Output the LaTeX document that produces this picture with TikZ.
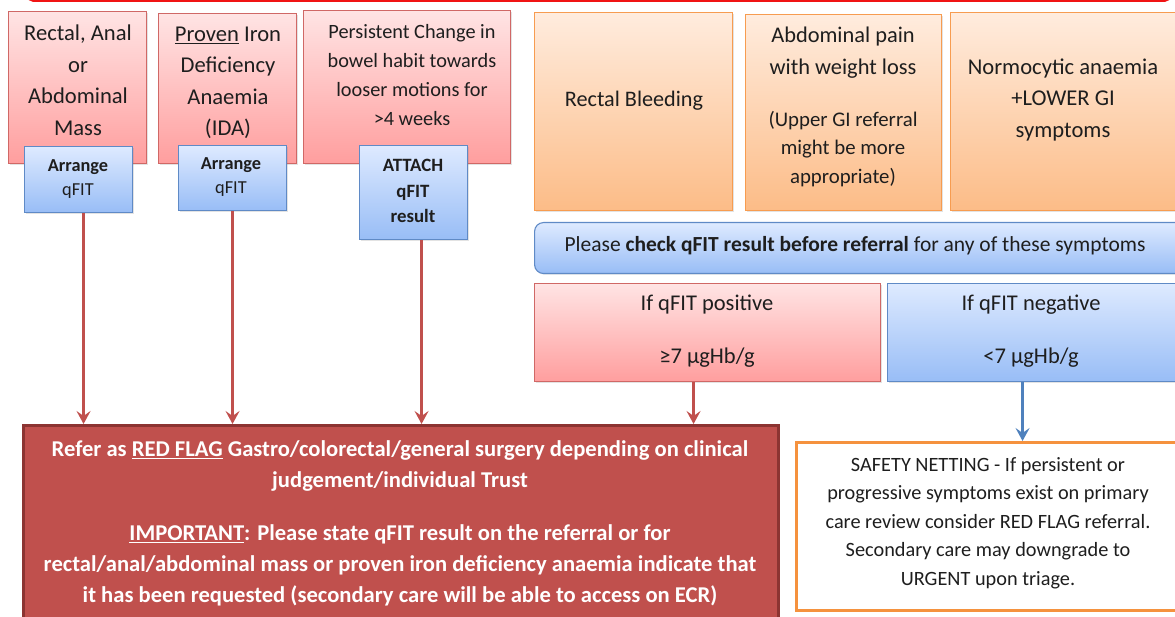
\documentclass[tikz,border=0pt]{standalone}
\usepackage{fontspec}
\setmainfont{Carlito}
\usetikzlibrary{arrows.meta,shadows}

\definecolor{pinkT}{RGB}{255,228,228}
\definecolor{pinkB}{RGB}{255,158,158}
\definecolor{pinkD}{RGB}{208,104,102}
\definecolor{blueT}{RGB}{222,234,255}
\definecolor{blueB}{RGB}{152,189,246}
\definecolor{blueD}{RGB}{95,138,198}
\definecolor{oraT}{RGB}{255,236,222}
\definecolor{oraB}{RGB}{252,188,135}
\definecolor{oraD}{RGB}{247,156,80}
\definecolor{snDraw}{RGB}{245,146,62}
\definecolor{rfFill}{RGB}{192,80,77}
\definecolor{rfDraw}{RGB}{140,52,50}
\definecolor{arrRed}{RGB}{192,80,77}
\definecolor{arrBlue}{RGB}{79,129,189}
\definecolor{topRed}{RGB}{240,20,20}
\definecolor{txtGray}{RGB}{30,30,30}

\tikzset{
  box/.style={draw, line width=1.1pt, anchor=north west, inner sep=0pt,
    drop shadow={shadow xshift=1.2pt, shadow yshift=-1.2pt, opacity=0.22}},
  pinkbox/.style={box, draw=pinkD, top color=pinkT, bottom color=pinkB},
  bluebox/.style={box, draw=blueD, top color=blueT, bottom color=blueB},
  orabox/.style={box, draw=oraD, top color=oraT, bottom color=oraB},
  txt/.style={align=center, inner sep=0pt, text=txtGray},
  redarrow/.style={draw=arrRed, line width=2.8pt, -{Stealth[length=13pt,width=14pt,inset=5pt]}},
  bluearrow/.style={draw=arrBlue, line width=2.8pt, -{Stealth[length=13pt,width=14pt,inset=5pt]}},
}

\begin{document}
\begin{tikzpicture}[x=1pt,y=-1pt]
\useasboundingbox (0,0) rectangle (1175,617);

% cropped frame at the top
\draw[topRed, line width=2pt, rounded corners=5pt] (28,-12) -- (28,0.8) -- (1170,0.8) -- (1170,-12);

% top-left red-flag symptom boxes
\node[pinkbox, minimum width=138pt, minimum height=152pt] (b1) at (8,11) {};
\node[txt, font={\fontsize{22.6}{31.5}\selectfont}] (t1) at (78,80) {Rectal, Anal\\or\\Abdominal\\Mass};
\node[pinkbox, minimum width=138pt, minimum height=150pt] (b2) at (158,13) {};
\node[txt, font={\fontsize{22.6}{31.5}\selectfont}] (t2) at (228,83) {\underline{Proven} Iron\\Deficiency\\Anaemia\\(IDA)};
\node[pinkbox, minimum width=207pt, minimum height=153pt] (b3) at (303,10) {};
\node[txt, font={\fontsize{20.3}{28.7}\selectfont}] (t3) at (412,75) {Persistent Change in\\bowel habit towards\\looser motions for\\>4 weeks};

% qFIT boxes
\node[bluebox, minimum width=108pt, minimum height=66pt] (qa) at (24,146) {};
\node[txt, font={\fontsize{18.3}{24}\selectfont}] (qat) at (78,179) {\textbf{Arrange}\\qFIT};
\node[bluebox, minimum width=108pt, minimum height=65pt] (qb) at (178,145) {};
\node[txt, font={\fontsize{18.3}{24}\selectfont}] (qbt) at (231,177) {\textbf{Arrange}\\qFIT};
\node[bluebox, minimum width=108pt, minimum height=94pt] (qc) at (359,145) {};
\node[txt, font={\fontsize{18.8}{25.5}\selectfont\bfseries}] (qct) at (413,191) {ATTACH\\qFIT\\result};

% orange symptom boxes
\node[orabox, minimum width=198pt, minimum height=198pt] (o1) at (534,12) {};
\node[txt, font={\fontsize{22.2}{31}\selectfont}] (o1t) at (634,101) {Rectal Bleeding};
\node[orabox, minimum width=196pt, minimum height=196pt] (o2) at (745,14) {};
\node[txt, font={\fontsize{22.4}{32}\selectfont}] (o2t) at (843,53) {Abdominal pain\\with weight loss};
\node[txt, font={\fontsize{20.8}{28.5}\selectfont}] (o2s) at (843,149) {(Upper GI referral\\might be more\\appropriate)};
\node[orabox, minimum width=240pt, minimum height=198pt] (o3) at (950,12) {};
\node[txt, font={\fontsize{22.6}{31.5}\selectfont}] (o3t) at (1063,100) {Normocytic anaemia\\+LOWER GI\\symptoms};

% check box
\node[bluebox, rounded corners=9pt, minimum width=660pt, minimum height=51pt] (chk) at (534,222) {};
\node[txt, font={\fontsize{21.5}{24}\selectfont}] (chkt) at (855,246) {Please \textbf{check qFIT result before referral} for any of these symptoms};

% positive / negative
\node[pinkbox, minimum width=346pt, minimum height=98pt] (pos) at (534,283) {};
\node[txt, font={\fontsize{22.5}{53}\selectfont}] (post) at (707,331) {If qFIT positive\\≥7 µgHb/g};
\node[bluebox, minimum width=300pt, minimum height=98pt] (neg) at (887,283) {};
\node[txt, font={\fontsize{22.5}{53}\selectfont}] (negt) at (1031,331) {If qFIT negative\\<7 µgHb/g};

% red flag box
\node[draw=rfDraw, fill=rfFill, line width=2.6pt, anchor=north west, inner sep=0pt,
      minimum width=755pt, minimum height=210pt] (rf) at (22,424) {};
\node[txt, text=white, font={\fontsize{22.6}{31}\selectfont\bfseries}] (rft) at (400,523)
 {Refer as \underline{RED FLAG} Gastro/colorectal/general surgery depending on clinical\\
  judgement/individual Trust\\[22pt]
  \underline{IMPORTANT}: Please state qFIT result on the referral or for\\
  rectal/anal/abdominal mass or proven iron deficiency anaemia indicate that\\
  it has been requested (secondary care will be able to access on ECR)};

% safety netting
\node[draw=snDraw, fill=white, line width=3pt, anchor=north west, inner sep=0pt,
      minimum width=395pt, minimum height=168pt] (sn) at (795,441) {};
\node[txt, font={\fontsize{20.3}{28.5}\selectfont}] (snt) at (988,523)
 {SAFETY NETTING - If persistent or\\progressive symptoms exist on primary\\care review consider RED FLAG referral.\\Secondary care may downgrade to\\URGENT upon triage.};

% connectors
\draw[redarrow] ([xshift=5pt]qa.south) -- ([xshift=5pt]qa.south |- rf.north);
\draw[redarrow] (qb.south) -- (qb.south |- rf.north);
\draw[redarrow] ([xshift=8pt]qc.south) -- ([xshift=8pt]qc.south |- rf.north);
\draw[redarrow] ([xshift=-14pt]pos.south) -- ([xshift=-14pt]pos.south |- rf.north);
\draw[bluearrow] ([xshift=-15pt]neg.south) -- ([xshift=-15pt]neg.south |- sn.north);
\end{tikzpicture}
\end{document}
